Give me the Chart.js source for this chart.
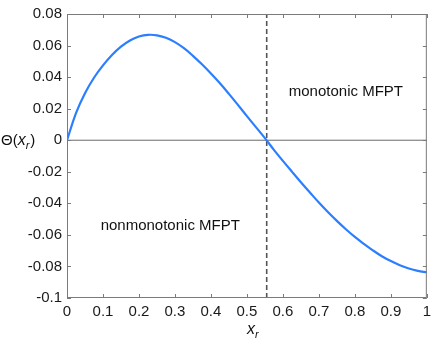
<!DOCTYPE html>
<html>
<head>
<meta charset="utf-8">
<script src="https://cdn.jsdelivr.net/npm/chart.js@4/dist/chart.umd.min.js"></script>
<style>
html,body{margin:0;padding:0;background:#fff;}
#wrap{width:436px;height:344px;}
</style>
</head>
<body>
<div id="wrap"><canvas id="c" width="436" height="344"></canvas></div>
<script>
// ---- data ----
const xr = [0,0.025,0.05,0.075,0.1,0.125,0.15,0.175,0.2,0.225,0.25,0.275,0.3,0.325,0.35,0.375,0.4,0.425,0.45,0.475,0.5,0.525,0.55,0.575,0.6,0.625,0.65,0.675,0.7,0.725,0.75,0.775,0.8,0.825,0.85,0.875,0.9,0.925,0.95,0.975,1.0];
const theta = [0,0.0172,0.0298,0.0396,0.0474,0.0540,0.0593,0.0632,0.0657,0.0668,0.0665,0.0649,0.0622,0.0583,0.0535,0.0481,0.0423,0.0361,0.0294,0.0224,0.0153,0.0083,0.0013,-0.0061,-0.0131,-0.0199,-0.0266,-0.0331,-0.0395,-0.0455,-0.0511,-0.0564,-0.0613,-0.0657,-0.0698,-0.0735,-0.0766,-0.0792,-0.0813,-0.0828,-0.0837];
const criticalX = [0.555];
const xTickValues = [0,0.1,0.2,0.3,0.4,0.5,0.6,0.7,0.8,0.9,1];
const xTickLabels = ['0','0.1','0.2','0.3','0.4','0.5','0.6','0.7','0.8','0.9','1'];
const yTickValues = [-0.1,-0.08,-0.06,-0.04,-0.02,0,0.02,0.04,0.06,0.08];
const yTickLabels = ['-0.1','-0.08','-0.06','-0.04','-0.02','0','0.02','0.04','0.06','0.08'];
const regionLabels = ['monotonic MFPT','nonmonotonic MFPT'];
const regionLabelX = [0.775, 0.287];
const regionLabelY = [0.0305, -0.054];

const FONT = '"Liberation Sans", Arial, Helvetica, sans-serif';
const AXIS = '#7a7a7a';

function labelFor(values, labels, v){
  for(let i=0;i<values.length;i++){ if(Math.abs(values[i]-v)<1e-9) return labels[i]; }
  return '';
}

const boxPlugin = {
  id:'boxPlugin',
  afterDraw(chart){
    const {ctx, chartArea:a, scales:{x,y}} = chart;
    ctx.save();
    ctx.strokeStyle = AXIS;
    ctx.lineWidth = 1;
    ctx.strokeRect(a.left+0.5, a.top+0.5, a.right-a.left-1, a.bottom-a.top-1);
    const L = 4;
    ctx.beginPath();
    xTickValues.forEach(v=>{
      const px = Math.round(x.getPixelForValue(v))+0.5;
      ctx.moveTo(px, a.bottom); ctx.lineTo(px, a.bottom-L);
      ctx.moveTo(px, a.top); ctx.lineTo(px, a.top+L);
    });
    yTickValues.forEach(v=>{
      const py = Math.round(y.getPixelForValue(v))+0.5;
      ctx.moveTo(a.left, py); ctx.lineTo(a.left+L, py);
      ctx.moveTo(a.right, py); ctx.lineTo(a.right-L, py);
    });
    ctx.stroke();
    // region labels
    ctx.fillStyle = '#111';
    ctx.font = '15px ' + FONT;
    ctx.textAlign = 'center';
    ctx.textBaseline = 'middle';
    regionLabels.forEach((t,i)=>{
      ctx.fillText(t, x.getPixelForValue(regionLabelX[i]), y.getPixelForValue(regionLabelY[i]));
    });
    // x axis title: x_r
    const drawXr = (cx, cy, align) => {
      ctx.font = 'italic 16px ' + FONT;
      const wx = ctx.measureText('x').width;
      ctx.font = 'italic 11px ' + FONT;
      const wr = ctx.measureText('r').width;
      let start = align==='center' ? cx - (wx+wr)/2 : cx;
      ctx.textAlign = 'left';
      ctx.textBaseline = 'alphabetic';
      ctx.font = 'italic 16px ' + FONT;
      ctx.fillText('x', start, cy);
      ctx.font = 'italic 11px ' + FONT;
      ctx.fillText('r', start+wx, cy+4);
      return start + wx + wr;
    };
    drawXr((a.left+a.right)/2 + 6, 334, 'center');
    // y title: Θ(x_r)
    const cy = y.getPixelForValue(0) + 5;
    ctx.font = '15px ' + FONT;
    ctx.textAlign = 'left';
    ctx.textBaseline = 'alphabetic';
    let px = 1;
    ctx.fillText('Θ(', px, cy);
    px += ctx.measureText('Θ(').width;
    const end = drawXr(px, cy, 'left');
    ctx.font = '15px ' + FONT;
    ctx.fillText(')', end + 1, cy);
    ctx.restore();
  }
};

new Chart(document.getElementById('c'), {
  type:'line',
  data:{
    datasets:[
      {
        data: xr.map((v,i)=>({x:v, y:theta[i]})),
        borderColor:'#2b7fff',
        borderWidth:2.2,
        pointRadius:0,
        tension:0.4,
        fill:false,
        order:1
      },
      {
        data:[{x:0,y:0},{x:1,y:0}],
        borderColor:'#6a6a6a',
        borderWidth:1,
        pointRadius:0,
        fill:false,
        order:3
      },
      {
        data:[{x:criticalX[0],y:-0.1},{x:criticalX[0],y:0.08}],
        borderColor:'#555',
        borderWidth:1.6,
        borderDash:[5,3],
        pointRadius:0,
        fill:false,
        order:2
      }
    ]
  },
  options:{
    responsive:false,
    animation:false,
    layout:{padding:{top:10,right:4,left:0,bottom:0}},
    plugins:{legend:{display:false},tooltip:{enabled:false}},
    scales:{
      x:{
        type:'linear', min:0, max:1,
        grid:{display:false, drawTicks:false},
        border:{display:false},
        afterBuildTicks(s){ s.ticks = xTickValues.map(v=>({value:v})); },
        afterFit(s){ s.height = 46; },
        ticks:{
          padding:5, maxRotation:0, autoSkip:false,
          color:'#1a1a1a', font:{family:FONT, size:15},
          callback:(v)=>labelFor(xTickValues, xTickLabels, v)
        }
      },
      y:{
        type:'linear', min:-0.1, max:0.08,
        grid:{display:false, drawTicks:false},
        border:{display:false},
        afterBuildTicks(s){ s.ticks = yTickValues.map(v=>({value:v})); },
        afterFit(s){ s.width = 67; },
        ticks:{
          padding:5, autoSkip:false,
          color:'#1a1a1a', font:{family:FONT, size:15},
          callback:(v)=>labelFor(yTickValues, yTickLabels, v)
        }
      }
    }
  },
  plugins:[boxPlugin]
});
</script>
</body>
</html>
